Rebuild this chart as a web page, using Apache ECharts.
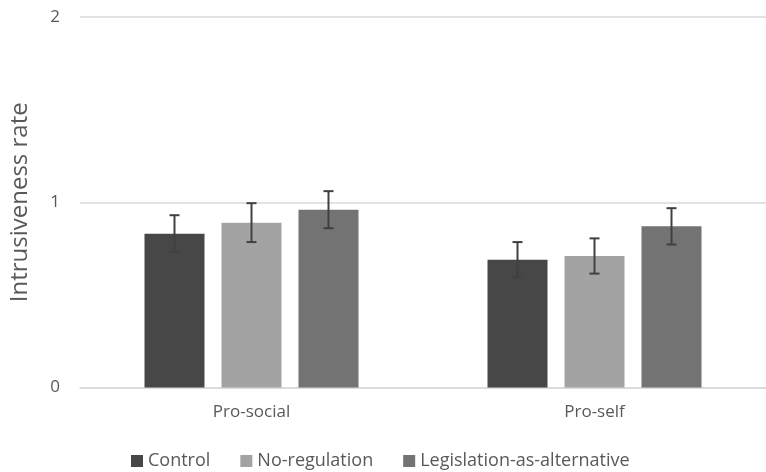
<!DOCTYPE html>
<html>
<head>
<meta charset="utf-8">
<script src="https://cdn.jsdelivr.net/npm/echarts@6/dist/echarts.min.js"></script>
<style>html,body{margin:0;padding:0;background:#fff;}#c{width:766px;height:472px;}</style>
</head>
<body>
<div id="c"></div>
<script>
var categories = ['Pro-social', 'Pro-self'];
var seriesNames = ['Control', 'No-regulation', 'Legislation-as-alternative'];
var controlVals = [0.83, 0.69];
var controlErr = [0.10, 0.095];
var noRegVals = [0.89, 0.71];
var noRegErr = [0.105, 0.095];
var legisVals = [0.96, 0.87];
var legisErr = [0.10, 0.098];
var yTicks = [0, 1, 2];

var colors = ['#474747', '#a3a3a3', '#737373'];
var vals = [controlVals, noRegVals, legisVals];
var errs = [controlErr, noRegErr, legisErr];
var BAR_W = 60, BAR_GAP = 17;
var FONT = '"Open Sans", sans-serif';

var series = [];
vals.forEach(function (v, i) {
  series.push({
    name: seriesNames[i], type: 'bar', data: v, barWidth: BAR_W, barGap: (BAR_GAP / BAR_W * 100) + '%',
    itemStyle: { color: colors[i] }, z: 2
  });
});
vals.forEach(function (v, i) {
  var d = v.map(function (val, k) { return [k, val - errs[i][k], val + errs[i][k]]; });
  series.push({
    type: 'custom', z: 5, silent: true,
    data: d,
    renderItem: function (params, api) {
      var lo = api.coord([api.value(0), api.value(1)]);
      var hi = api.coord([api.value(0), api.value(2)]);
      var x = lo[0] + (i - 1) * (BAR_W + BAR_GAP);
      var cap = 5;
      var st = { stroke: '#404040', lineWidth: 2 };
      return { type: 'group', children: [
        { type: 'line', shape: { x1: x, y1: lo[1], x2: x, y2: hi[1] }, style: st },
        { type: 'line', shape: { x1: x - cap, y1: hi[1], x2: x + cap, y2: hi[1] }, style: st },
        { type: 'line', shape: { x1: x - cap, y1: lo[1], x2: x + cap, y2: lo[1] }, style: st }
      ]};
    }
  });
});

var chart = echarts.init(document.getElementById('c'));
chart.setOption({
  animation: false,
  textStyle: { fontFamily: FONT },
  grid: { left: 78, top: 17, width: 696, height: 370.5, containLabel: false },
  legend: {
    data: seriesNames, top: 452, left: 131, padding: 0, icon: 'rect', itemWidth: 12, itemHeight: 12, itemGap: 30,
    textStyle: { color: '#595959', fontSize: 18, fontFamily: FONT }
  },
  xAxis: {
    type: 'category', data: categories,
    axisLine: { lineStyle: { color: '#d9d9d9', width: 1.5 } },
    axisTick: { show: false },
    axisLabel: { color: '#595959', fontSize: 17, margin: 16, fontFamily: FONT }
  },
  yAxis: {
    type: 'value', min: yTicks[0], max: yTicks[yTicks.length - 1], interval: 1,
    name: 'Intrusiveness rate', nameLocation: 'middle', nameGap: 48,
    nameTextStyle: { color: '#595959', fontSize: 24, fontFamily: FONT },
    axisLine: { show: false }, axisTick: { show: false },
    axisLabel: { color: '#595959', fontSize: 17, margin: 20, fontFamily: FONT },
    splitLine: { lineStyle: { color: '#d9d9d9', width: 1.5 } }
  },
  series: series
});
</script>
</body>
</html>
